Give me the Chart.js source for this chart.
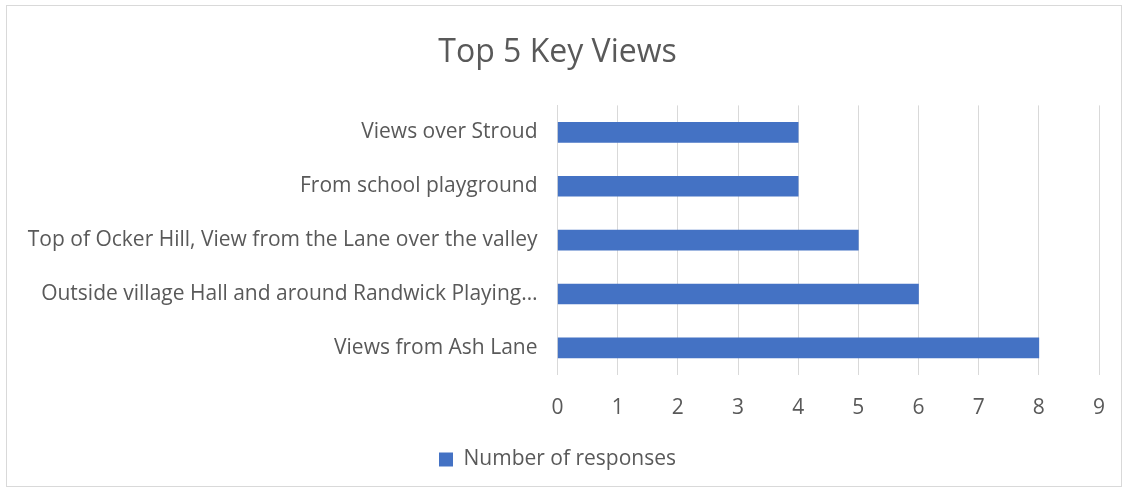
<!DOCTYPE html>
<html>
<head>
<meta charset="utf-8">
<script src="https://cdn.jsdelivr.net/npm/chart.js@4/dist/chart.umd.min.js"></script>
<style>
	html, body { margin: 0; padding: 0; background: #fff; }
	#box {
		position: absolute; left: 6px; top: 5px;
		width: 1116px; height: 482px;
		border: 1px solid #d9d9d9; box-sizing: border-box;
	}
</style>
</head>
<body>
<div id="box"><canvas id="views"></canvas></div>
<script>
// values
const categories = [
	"Views over Stroud",
	"From school playground",
	"Top of Ocker Hill, View from the Lane over the valley",
	"Outside village Hall and around Randwick Playing…",
	"Views from Ash Lane",
];
const responses = [4, 4, 5, 6, 8];
const xTicks = [0, 1, 2, 3, 4, 5, 6, 7, 8, 9];

const grey = "#595959";
const fontFamily = "'Open Sans', sans-serif";

function draw() {
	new Chart(document.getElementById("views"), {
		type: "bar",
		data: {
			labels: categories,
			datasets: [
				{
					label: "Number of responses",
					data: responses,
					backgroundColor: "#4472c4",
					barThickness: 20,
				},
			],
		},
		options: {
			indexAxis: "y",
			responsive: true,
			maintainAspectRatio: false,
			animation: false,
			layout: { padding: { left: 9, right: 22, top: 0, bottom: 6 } },
			plugins: {
				title: {
					display: true,
					text: "Top 5 Key Views",
					color: grey,
					font: { family: fontFamily, size: 32, weight: "normal" },
					padding: { top: 28, bottom: 33 },
				},
				legend: {
					position: "bottom",
					labels: {
						color: grey,
						boxWidth: 14,
						boxHeight: 14,
						font: { family: fontFamily, size: 21 },
						padding: 7,
					},
				},
				tooltip: { enabled: false },
			},
			scales: {
				x: {
					min: 0,
					max: xTicks[xTicks.length - 1],
					afterBuildTicks: (axis) => {
						axis.ticks = xTicks.map((v) => ({ value: v }));
					},
					afterFit: (axis) => {
						axis.paddingLeft = 0;
						axis.paddingRight = 0;
					},
					grid: { color: "#d9d9d9", drawTicks: false },
					border: { display: false },
					ticks: {
						color: grey,
						padding: 21,
						font: { family: fontFamily, size: 21 },
					},
				},
				y: {
					grid: { display: false, drawTicks: false },
					border: { display: true, color: "#d9d9d9" },
					ticks: {
						color: grey,
						padding: 20,
						autoSkip: false,
						font: { family: fontFamily, size: 21 },
					},
				},
			},
		},
	});
}
draw();
</script>
</body>
</html>
